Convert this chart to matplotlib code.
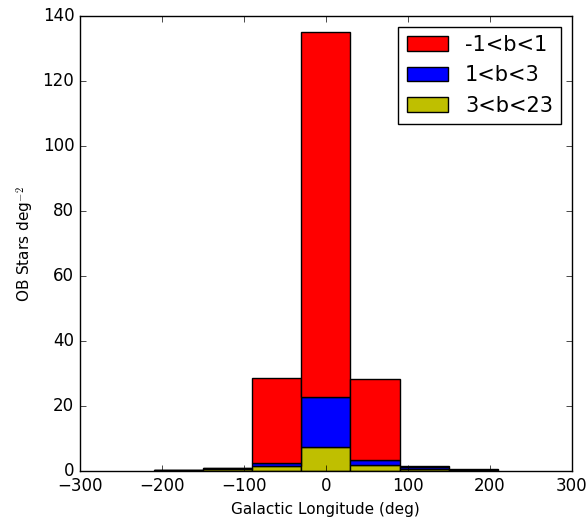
import matplotlib
matplotlib.use("Agg")
import matplotlib.pyplot as plt

plt.style.use('classic')

# Centros dos bins de longitude galáctica (graus)
centros = [-180, -120, -60, 0, 60, 120, 180]

# Densidade de estrelas OB por faixa de latitude (deg^-2)
b_3_23 = [0.2, 0.5, 1.5, 7.4, 1.75, 0.5, 0.25]
b_1_3 = [0.1, 0.4, 1.1, 15.4, 1.65, 0.8, 0.1]
b_m1_1 = [0.1, 0.2, 26.0, 112.2, 24.9, 0.2, 0.15]

rotulos = ["-1<b<1", "1<b<3", "3<b<23"]

fig = plt.figure(figsize=(5.87, 5.2), dpi=100, facecolor='white')
ax = fig.add_axes([0.136, 0.094, 0.838, 0.875])

base2 = [a + b for a, b in zip(b_3_23, b_1_3)]
h3 = ax.bar(centros, b_3_23, width=60, align='center', color='y', edgecolor='k')
h2 = ax.bar(centros, b_1_3, width=60, bottom=b_3_23, align='center', color='b', edgecolor='k')
h1 = ax.bar(centros, b_m1_1, width=60, bottom=base2, align='center', color='r', edgecolor='k')

ax.set_xlim(-300, 300)
ax.set_ylim(0, 140)
ax.set_xlabel("Galactic Longitude (deg)", fontsize=11)
ax.set_ylabel("OB Stars deg$^{-2}$", fontsize=11)
ax.legend([h1, h2, h3], rotulos, loc='upper right', fontsize=15)

fig.savefig("out.png", dpi=100, facecolor='white')
